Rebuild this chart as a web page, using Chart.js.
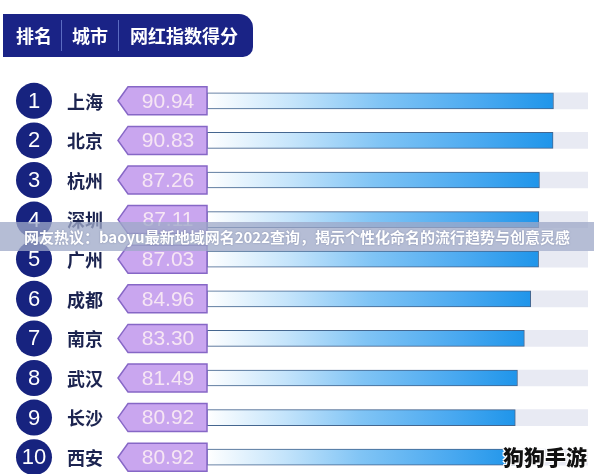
<!DOCTYPE html>
<html>
<head>
<meta charset="utf-8">
<script src="https://cdn.jsdelivr.net/npm/chart.js@4.4.0/dist/chart.umd.min.js"></script>
<style>
html, body { margin: 0; padding: 0; background: #fff; overflow: hidden; width: 594px; height: 474px; }
#wrap { position: relative; width: 594px; height: 474px; overflow: hidden; }
#chart { position: absolute; left: 0; top: 0; }
.header {
    position: absolute; left: 3px; top: 14px; width: 250px; height: 43px;
    background: #1a2386; border-radius: 0 14px 10px 0;
    font-family: "Noto Sans CJK SC", sans-serif; font-weight: bold; font-size: 18px;
    color: #fff; line-height: 43px;
}
.header span { position: absolute; top: 0; }
.header i { position: absolute; top: 6px; width: 1px; height: 31px; background: rgba(120, 140, 220, 0.7); }
.banner {
    position: absolute; left: 0; top: 222px; width: 594px; height: 29px;
    background: rgba(158, 168, 200, 0.76);
    font-family: "Noto Sans CJK SC", sans-serif; font-weight: bold; font-size: 15px;
    color: #fff; line-height: 29px; text-align: center;
    text-shadow: 0 0 2px rgba(60, 70, 110, 0.4);
}
.mark {
    position: absolute; left: 503px; top: 441px;
    font-family: "Noto Sans CJK SC", sans-serif; font-weight: 900; font-size: 21px; color: #111;
    text-shadow: 1px 1px 0 #fff, -1px -1px 0 #fff, 1px -1px 0 #fff, -1px 1px 0 #fff;
}
</style>
</head>
<body>
<div id="wrap">
    <canvas id="chart" width="594" height="477" style="width:594px;height:477px"></canvas>
    <div class="header">
        <span style="left:13px">排名</span>
        <i style="left:58px"></i>
        <span style="left:69px">城市</span>
        <i style="left:115px"></i>
        <span style="left:127px">网红指数得分</span>
    </div>
    <div class="banner">网友热议：baoyu最新地域网名2022查询，揭示个性化命名的流行趋势与创意灵感</div>
    <div class="mark">狗狗手游</div>
</div>
<script>
// data
const ranks = ['1', '2', '3', '4', '5', '6', '7', '8', '9', '10'];
const cities = ['上海', '北京', '杭州', '深圳', '广州', '成都', '南京', '武汉', '长沙', '西安'];
const scores = [90.94, 90.83, 87.26, 87.11, 87.03, 84.96, 83.30, 81.49, 80.92, 80.92];
const fullScore = [100, 100, 100, 100, 100, 100, 100, 100, 100, 100];

// rank circle, city name and score tag left of each bar
const rowLabels = {
    id: 'rowLabels',
    afterDatasetsDraw(chart) {
        const ctx = chart.ctx;
        const yScale = chart.scales.y;
        const left = chart.chartArea.left;
        ctx.save();
        cities.forEach(function(city, i) {
            const cy = yScale.getPixelForValue(i);

            // circle
            ctx.beginPath();
            ctx.arc(34, cy, 18, 0, Math.PI * 2);
            ctx.fillStyle = '#17237f';
            ctx.fill();
            ctx.fillStyle = '#ffffff';
            ctx.font = '22px "Liberation Sans", Arial, sans-serif';
            ctx.textAlign = 'center';
            ctx.textBaseline = 'middle';
            ctx.fillText(ranks[i], 34, cy + 1);

            // city
            ctx.fillStyle = '#1c2450';
            ctx.font = 'bold 18px "Noto Sans CJK SC", sans-serif';
            ctx.textAlign = 'left';
            ctx.fillText(city, 67, cy + 1);

            // tag
            const top = cy - 14, bottom = cy + 14;
            ctx.beginPath();
            ctx.moveTo(left - 89, cy);
            ctx.lineTo(left - 79, top);
            ctx.lineTo(left, top);
            ctx.lineTo(left, bottom);
            ctx.lineTo(left - 79, bottom);
            ctx.closePath();
            ctx.fillStyle = '#c9a6ef';
            ctx.fill();
            ctx.lineWidth = 1.5;
            ctx.strokeStyle = '#8667c6';
            ctx.stroke();

            ctx.fillStyle = '#f6e6f4';
            ctx.font = '21px "Liberation Sans", Arial, sans-serif';
            ctx.textAlign = 'center';
            ctx.fillText(scores[i].toFixed(2), left - 39, cy + 1);
        });
        ctx.restore();
    }
};

function barGradient(context) {
    const chart = context.chart;
    const area = chart.chartArea;
    if (!area || !chart.scales.x) {
        return '#2b8fe8';
    }
    const end = chart.scales.x.getPixelForValue(scores[context.dataIndex]);
    const g = chart.ctx.createLinearGradient(area.left, 0, end, 0);
    g.addColorStop(0, '#ffffff');
    g.addColorStop(0.25, '#c4e4fb');
    g.addColorStop(0.5, '#80c4f5');
    g.addColorStop(0.8, '#48a8f0');
    g.addColorStop(1, '#1f95ea');
    return g;
}

new Chart(document.getElementById('chart'), {
    type: 'bar',
    data: {
        labels: cities,
        datasets: [
            {
                label: 'score',
                data: scores,
                backgroundColor: barGradient,
                borderColor: '#44668f',
                borderWidth: 1,
                borderSkipped: false,
                barThickness: 16,
                grouped: false,
                order: 1
            },
            {
                label: 'full',
                data: fullScore,
                backgroundColor: '#e8eaf3',
                borderWidth: 0,
                barThickness: 16,
                grouped: false,
                order: 2
            }
        ]
    },
    options: {
        indexAxis: 'y',
        responsive: false,
        animation: false,
        layout: {
            padding: { top: 81, left: 207, right: 6, bottom: 0 }
        },
        scales: {
            x: { min: 0, max: 100, display: false },
            y: { display: false }
        },
        plugins: {
            legend: { display: false },
            tooltip: { enabled: false }
        }
    },
    plugins: [rowLabels]
});
</script>
</body>
</html>
